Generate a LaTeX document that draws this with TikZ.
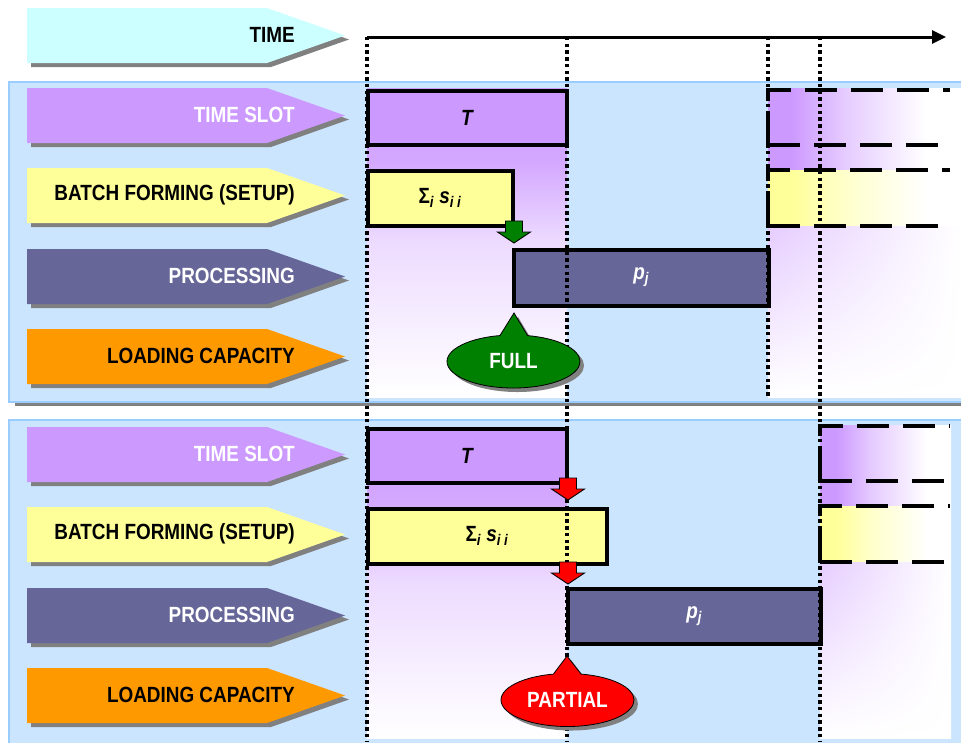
\documentclass[tikz,border=0pt]{standalone}
\usepackage{fontspec}
\setmainfont{Liberation Sans}[FakeStretch=0.86]
\usetikzlibrary{arrows.meta,shapes.callouts,shadows,shadings}

\definecolor{timecol}{RGB}{204,255,255}
\definecolor{slotcol}{RGB}{204,153,255}
\definecolor{setupcol}{RGB}{255,255,153}
\definecolor{proccol}{RGB}{102,102,153}
\definecolor{loadcol}{RGB}{255,153,0}
\definecolor{panelcol}{RGB}{204,229,255}
\definecolor{panelline}{RGB}{153,204,255}
\definecolor{fullcol}{RGB}{0,128,0}
\definecolor{partcol}{RGB}{255,0,0}

\pgfdeclareverticalshading{slotfade}{100bp}{color(0bp)=(white); color(25bp)=(white); color(50bp)=(slotcol!35); color(63bp)=(slotcol!85); color(75bp)=(slotcol); color(100bp)=(slotcol)}
\pgfdeclarehorizontalshading{slotside}{100bp}{color(0bp)=(slotcol); color(31bp)=(slotcol); color(45bp)=(slotcol!50); color(66bp)=(white); color(100bp)=(white)}
\pgfdeclarehorizontalshading{setupside}{100bp}{color(0bp)=(setupcol); color(31bp)=(setupcol); color(45bp)=(setupcol!50); color(66bp)=(white); color(100bp)=(white)}

\tikzset{
  lanetxt/.style={font=\fontsize{22}{24}\selectfont\bfseries, anchor=east, inner sep=0pt},
  laneshadow/.style={fill=black!50},
  gbox/.style={draw=black, line width=4pt, inner sep=0pt, font=\fontsize{22}{24}\selectfont\bfseries\itshape},
  openbox/.style={line width=3.5pt, dash pattern=on 32pt off 14pt},
  guide/.style={line width=3.4pt, dash pattern=on 3.4pt off 3.3pt},
  flag/.style={ellipse callout, draw=black, line width=0.8pt, minimum width=133pt, minimum height=53pt,
    inner sep=0pt, callout pointer arc=24, text=white, font=\fontsize{22}{24}\selectfont\bfseries,
    drop shadow={shadow xshift=4pt, shadow yshift=-4pt, fill=black!50, opacity=1}},
  panel/.style={fill=panelcol, draw=panelline, line width=1.5pt}
}

% lane arrow: top y, fill, text colour, name, label
\newcommand{\lane}[5]{%
  \fill[laneshadow, shift={(4,4)}] (27,#1) -- ++(240,0) -- ++(78,27.5) -- ++(-78,27.5) -- ++(-240,0) -- cycle;
  \fill[#2] (27,#1) -- ++(240,0) -- ++(78,27.5) -- ++(-78,27.5) -- ++(-240,0) -- cycle;
  \node[lanetxt, text=#3] (#4) at (295,{#1+26.5}) {#5};}

% block arrow pointing down: x, top y, fill
\newcommand{\dropmark}[3]{%
  \draw[fill=#3, line width=0.9pt] ({#1-8.5},#2) -- ++(17,0) -- ++(0,11) -- ++(8,0) -- ++(-16.5,11)
    -- ++(-16.5,-11) -- ++(8,0) -- cycle;}

\begin{document}
\begin{tikzpicture}[x=1pt, y=-1pt]
  \useasboundingbox (0,0) rectangle (961,742);

  % time header
  \lane{8}{timecol}{black}{timelbl}{TIME}

  % panels
  \fill[black!50] (15,398) rectangle (961,406);
  \draw[panel] (9,82) rectangle (975,402);
  \draw[panel] (9,420) rectangle (975,750);

  % full case
  \lane{88}{slotcol}{white}{slotA}{TIME SLOT}
  \lane{168}{setupcol}{black}{setupA}{BATCH FORMING (SETUP)}
  \lane{249}{proccol}{white}{procA}{PROCESSING}
  \lane{329}{loadcol}{black}{loadA}{LOADING CAPACITY}

  % partial case
  \lane{427}{slotcol}{white}{slotB}{TIME SLOT}
  \lane{507}{setupcol}{black}{setupB}{BATCH FORMING (SETUP)}
  \lane{588}{proccol}{white}{procB}{PROCESSING}
  \lane{668}{loadcol}{black}{loadB}{LOADING CAPACITY}

  % shaded slot columns
  \shade[shading=slotfade] (367,88) rectangle (567,397);
  \shade[shading=slotfade] (367,427) rectangle (567,738);
  \shade[shading=slotside] (768,88) rectangle (961,170);
  \shade[shading=setupside] (768,170) rectangle (961,226);
  \shade[upper left=slotcol!50, upper right=white, lower left=white, lower right=white] (768,226) rectangle (961,397);
  \shade[shading=slotside] (820,425) rectangle (951,506);
  \shade[shading=setupside] (820,506) rectangle (951,562);
  \shade[upper left=slotcol!50, upper right=white, lower left=white, lower right=white] (820,562) rectangle (951,738);

  % bars
  \node[gbox, fill=slotcol, minimum width=199pt, minimum height=54pt] (tA) at (467,117.5) {T};
  \node[gbox, fill=setupcol, minimum width=145pt, minimum height=55pt] (sA) at (440,198) {{\upshape Σ}\textsubscript{i} s\textsubscript{i i}};
  \node[gbox, fill=proccol, text=white, minimum width=255.5pt, minimum height=56pt] (pA) at (641.25,277.5) {p\textsubscript{j}};
  \node[gbox, fill=slotcol, minimum width=199pt, minimum height=54pt] (tB) at (467,455.5) {T};
  \node[gbox, fill=setupcol, minimum width=239pt, minimum height=55.5pt] (sB) at (487,536.25) {{\upshape Σ}\textsubscript{i} s\textsubscript{i i}};
  \node[gbox, fill=proccol, text=white, minimum width=253.5pt, minimum height=55pt] (pB) at (694.25,616) {p\textsubscript{j}};

  % next slot, open ended
  \draw[openbox] (768,145) -- (768,90) -- (950,90);
  \draw[openbox] (768,145) -- (950,145);
  \draw[openbox] (768,226) -- (768,170) -- (950,170);
  \draw[openbox] (768,226) -- (950,226);
  \draw[openbox] (820,481) -- (820,426) -- (950,426);
  \draw[openbox] (820,481) -- (950,481);
  \draw[openbox] (820,562) -- (820,506) -- (950,506);
  \draw[openbox] (820,562) -- (950,562);

  % time axis and guides
  \coordinate (t0) at (367,37);
  \coordinate (t1) at (946,37);
  \draw[line width=3pt, -{Triangle[length=14pt,width=13pt]}] (t0) -- (t1);
  \draw[guide] (367,37) -- (367,742);
  \draw[guide] (567,37) -- (567,742);
  \draw[guide] (768,37) -- (768,397);
  \draw[guide] (820,37) -- (820,742);

  \dropmark{514}{221}{fullcol}
  \dropmark{568}{478}{partcol}
  \dropmark{568}{562}{partcol}

  \node[flag, fill=fullcol, callout absolute pointer={(514,313)}] (full) at (513.5,361.5) {FULL};
  \node[flag, fill=partcol, callout absolute pointer={(567,656)}] (partial) at (567.5,700) {PARTIAL};
\end{tikzpicture}
\end{document}
